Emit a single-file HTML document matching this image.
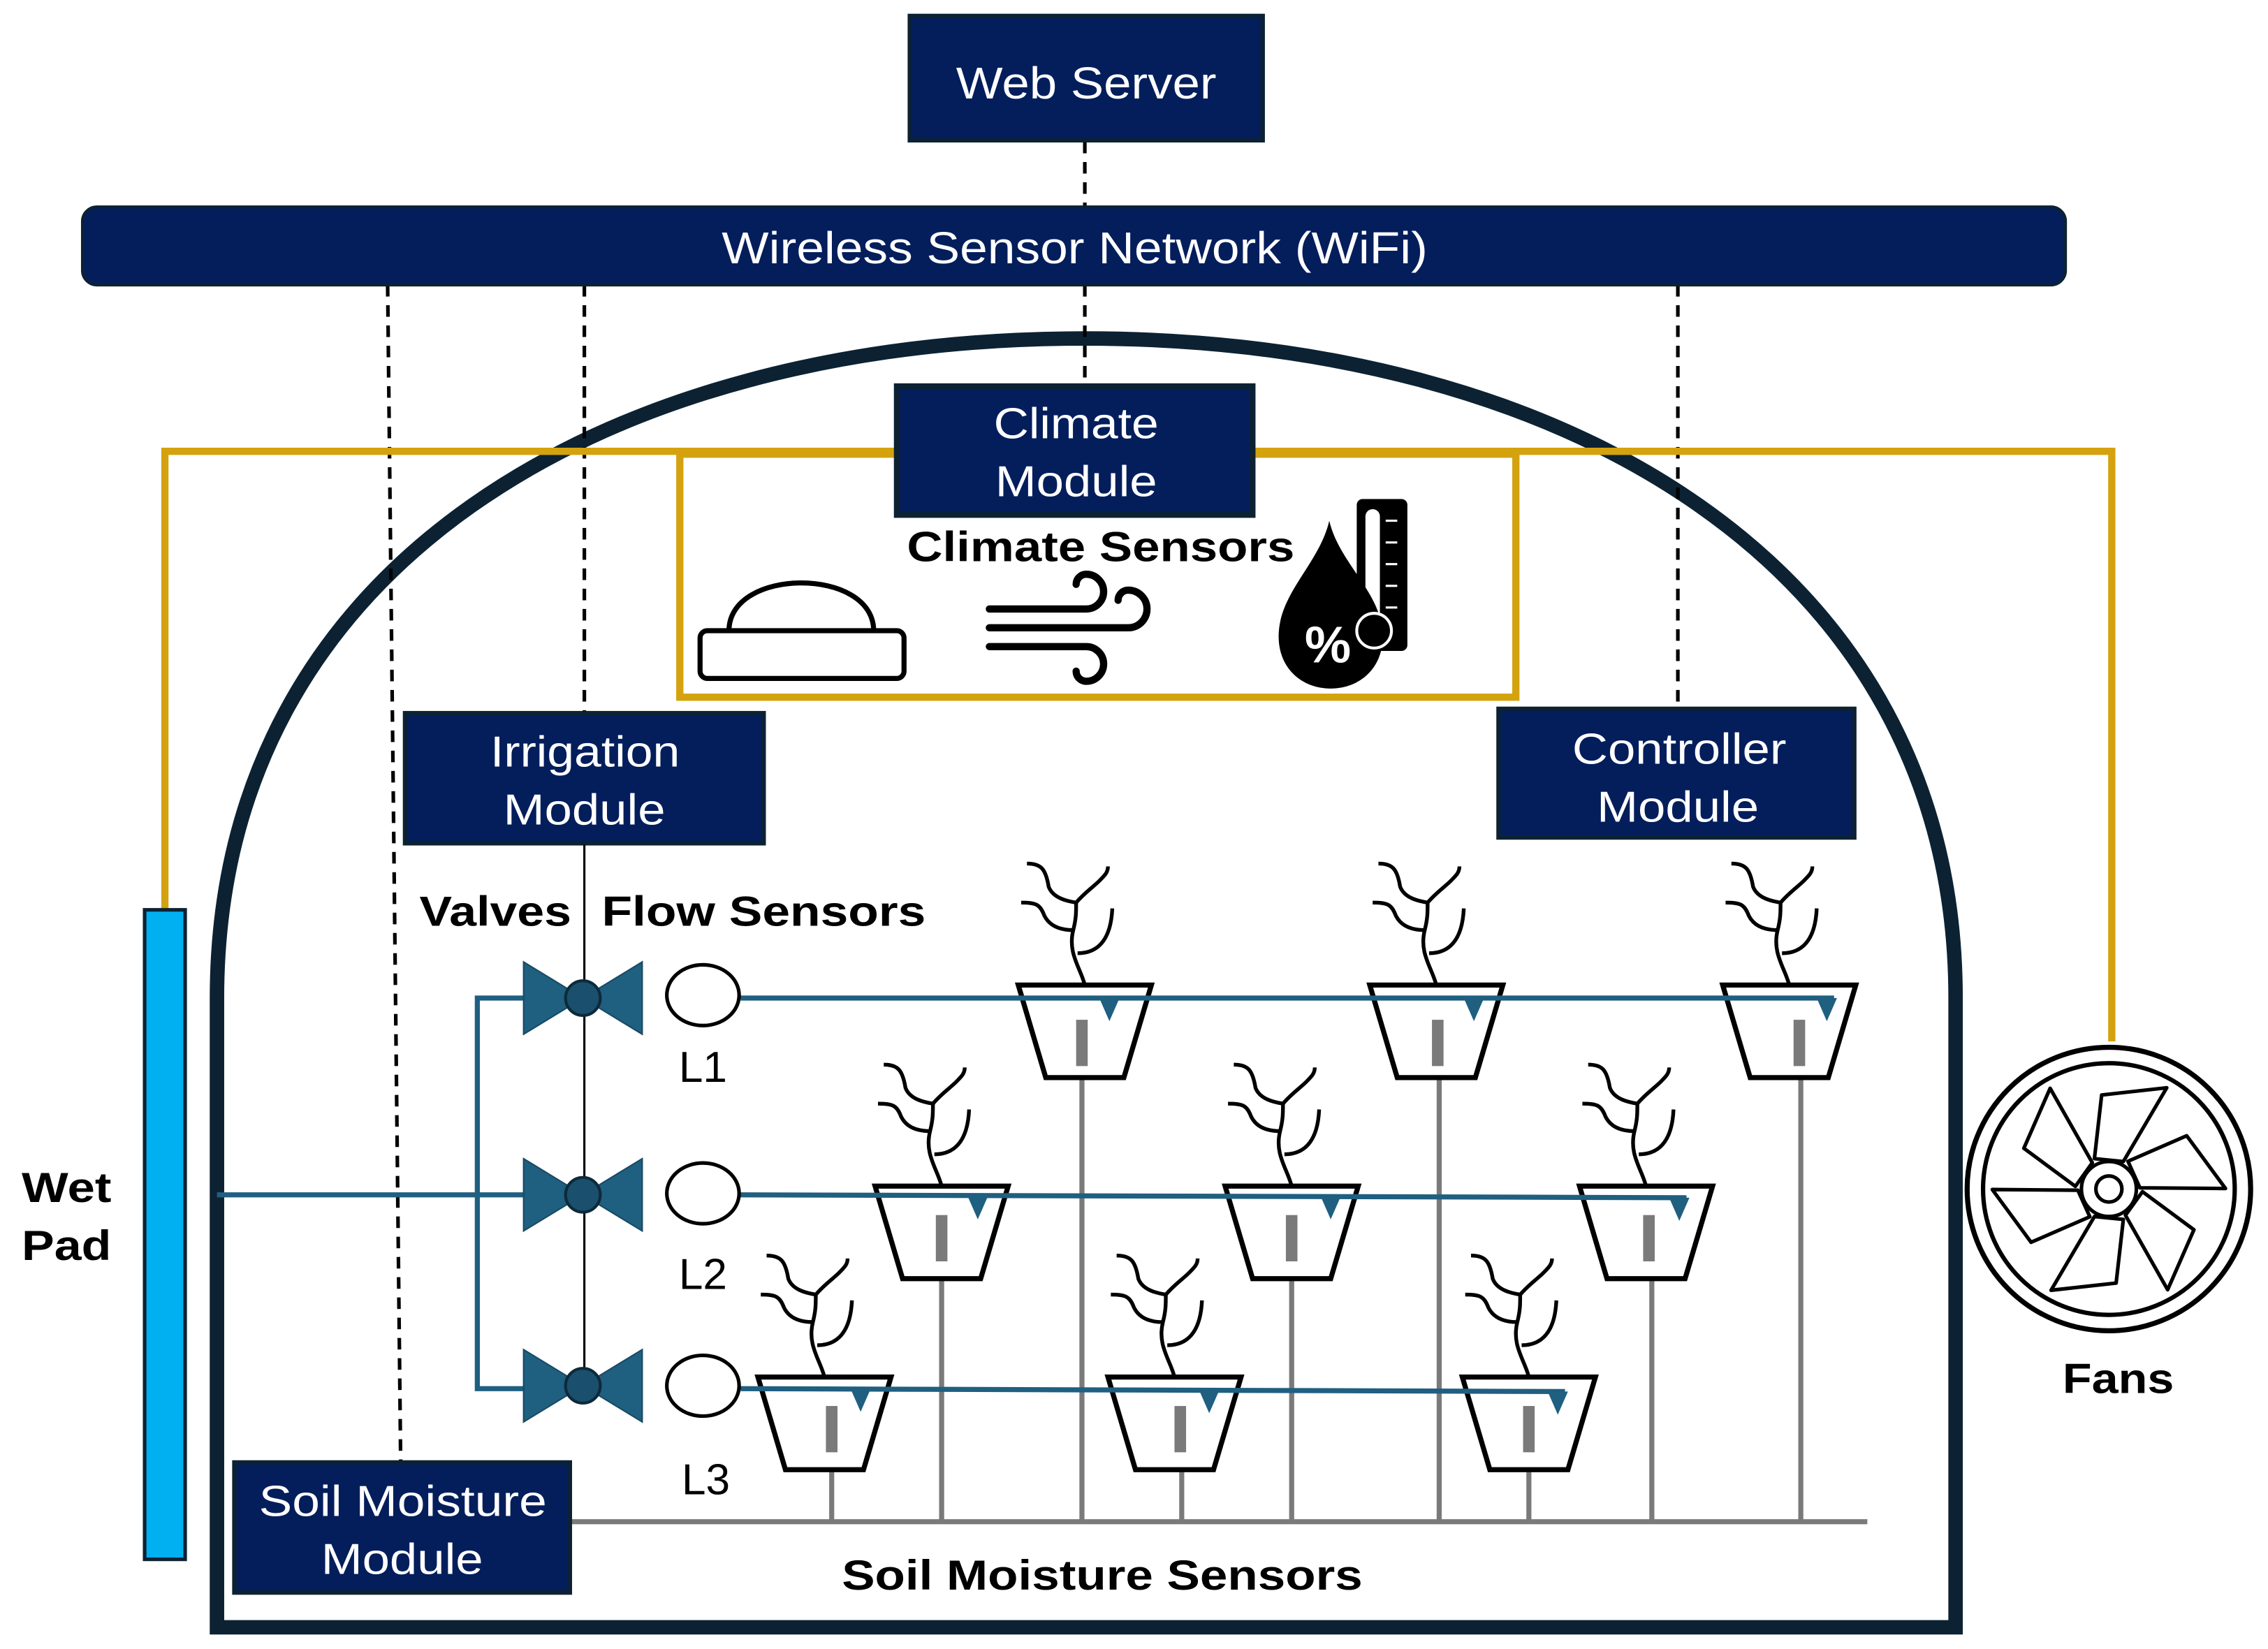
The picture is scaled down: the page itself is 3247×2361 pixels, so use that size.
<!DOCTYPE html>
<html><head><meta charset="utf-8"><style>
html,body{margin:0;padding:0;background:#fff;}
svg{display:block;}
text{font-family:"Liberation Sans",Arial,sans-serif;}
</style></head><body>
<svg width="3247" height="2361" viewBox="0 0 1568 1140" preserveAspectRatio="none" xmlns="http://www.w3.org/2000/svg">
<defs>
<g id="plant">
  <path d="M0,0 C-3,-12 -12,-22 -8,-38 C-6,-46 -6,-50 -6,-57" fill="none" stroke="#000" stroke-width="2.6"/>
  <path d="M-6,-57 C-12,-58 -22,-60 -25,-68 C-27,-80 -30,-84 -40,-84" fill="none" stroke="#000" stroke-width="2.6"/>
  <path d="M-6,-57 C0,-64 6,-68 10,-72 C14,-76 16,-78 16,-82" fill="none" stroke="#000" stroke-width="2.6"/>
  <path d="M-8,-38 C-16,-38 -24,-40 -28,-48 C-31,-56 -34,-57 -44,-57" fill="none" stroke="#000" stroke-width="2.6"/>
  <path d="M-5,-22 C8,-22 18,-30 19,-53" fill="none" stroke="#000" stroke-width="2.6"/>
</g>
<g id="pot">
  <polygon points="-46,0 46,0 27,64 -27,64" fill="#fff" stroke="#000" stroke-width="3.5"/>
</g>
<g id="blade"><polygon points="-10,-21 -5,-65 40,-70 10,-19" fill="#fff" stroke="#000" stroke-width="2.5" stroke-linejoin="round"/></g>
<g id="valve">
  <polygon points="-41,-25 -41,25 0,0" fill="#1f5f80" stroke="#184a64" stroke-width="1"/>
  <polygon points="41,-25 41,25 0,0" fill="#1f5f80" stroke="#184a64" stroke-width="1"/>
  <circle r="12" fill="#1a4f6e" stroke="#0d2a3a" stroke-width="2"/>
</g>
</defs>

<path d="M150,690 C150,390 420,234 750,234 C1080,234 1352,390 1352,690 L1352,1125 L150,1125 Z" fill="none" stroke="#0c2233" stroke-width="10"/>

<g stroke="#000" stroke-width="2.5" stroke-dasharray="8,6" fill="none">
  <line x1="750" y1="98" x2="750" y2="143"/>
  <line x1="750" y1="197" x2="750" y2="266"/>
  <line x1="268" y1="197" x2="277" y2="1010"/>
  <line x1="404" y1="197" x2="404" y2="492"/>
  <line x1="1160" y1="197" x2="1160" y2="489"/>
</g>

<g stroke="#d4a20f" stroke-width="5" fill="none">
  <polyline points="114,630 114,312 1460,312 1460,720"/>
  <rect x="470" y="314" width="578" height="168"/>
</g>

<rect x="629" y="11" width="244" height="86" fill="#041e5c" stroke="#0c2233" stroke-width="3"/>
<text x="661" y="68" font-size="31" fill="#fff" textLength="180" lengthAdjust="spacingAndGlyphs">Web Server</text>

<rect x="57" y="143" width="1371" height="54" rx="10" fill="#041e5c" stroke="#0c2233" stroke-width="2"/>
<text x="499" y="182" font-size="31" fill="#fff" textLength="488" lengthAdjust="spacingAndGlyphs">Wireless Sensor Network (WiFi)</text>

<rect x="620" y="267" width="246" height="89" fill="#041e5c" stroke="#0c2233" stroke-width="4"/>
<text x="687" y="303" font-size="30" fill="#fff" textLength="114" lengthAdjust="spacingAndGlyphs">Climate</text>
<text x="688" y="343" font-size="30" fill="#fff" textLength="112" lengthAdjust="spacingAndGlyphs">Module</text>
<text x="627" y="388" font-size="29" font-weight="bold" fill="#000" textLength="268" lengthAdjust="spacingAndGlyphs">Climate Sensors</text>

<path d="M504,436 C504,392 604,392 604,436" fill="none" stroke="#000" stroke-width="3.5"/>
<rect x="484" y="436" width="141" height="33" rx="5" fill="#fff" stroke="#000" stroke-width="3.5"/>

<g fill="none" stroke="#000" stroke-width="5" stroke-linecap="round">
  <path d="M684,421 H751 a12,12 0 0 0 0,-24 a7,7 0 0 0 -7,7"/>
  <path d="M684,434 H780 a13,13 0 0 0 0,-26 a7,7 0 0 0 -7,7"/>
  <path d="M684,447 H751 a12,12 0 0 1 0,24 a7,7 0 0 1 -7,-7"/>
</g>

<rect x="938" y="345" width="35" height="105" rx="4" fill="#000"/>
<rect x="944" y="352" width="10" height="80" rx="5" fill="#fff"/>
<g stroke="#fff" stroke-width="1.5">
  <line x1="958" y1="360" x2="966" y2="360"/><line x1="958" y1="375" x2="966" y2="375"/>
  <line x1="958" y1="390" x2="966" y2="390"/><line x1="958" y1="405" x2="966" y2="405"/>
  <line x1="958" y1="420" x2="966" y2="420"/>
</g>
<path d="M919,360 C912,390 884,410 884,440 C884,462 900,476 920,476 C940,476 956,462 956,440 C956,410 926,390 919,360 Z" fill="#000"/>
<circle cx="950" cy="436" r="12" fill="#000" stroke="#fff" stroke-width="2"/>
<text x="918" y="458" font-size="36" font-weight="bold" fill="#fff" text-anchor="middle">%</text>

<rect x="280" y="493" width="248" height="90" fill="#041e5c" stroke="#0c2233" stroke-width="3"/>
<text x="339" y="530" font-size="30" fill="#fff" textLength="131" lengthAdjust="spacingAndGlyphs">Irrigation</text>
<text x="348" y="570" font-size="30" fill="#fff" textLength="112" lengthAdjust="spacingAndGlyphs">Module</text>

<rect x="1036" y="490" width="246" height="89" fill="#041e5c" stroke="#0c2233" stroke-width="3"/>
<text x="1087" y="528" font-size="30" fill="#fff" textLength="148" lengthAdjust="spacingAndGlyphs">Controller</text>
<text x="1104" y="568" font-size="30" fill="#fff" textLength="112" lengthAdjust="spacingAndGlyphs">Module</text>

<rect x="100" y="629" width="28" height="449" fill="#00b0f0" stroke="#0c2233" stroke-width="2.5"/>
<text x="15" y="831" font-size="29" font-weight="bold" textLength="62" lengthAdjust="spacingAndGlyphs">Wet</text>
<text x="15" y="871" font-size="29" font-weight="bold" textLength="62" lengthAdjust="spacingAndGlyphs">Pad</text>

<g transform="translate(1458,822)">
  <circle r="98" fill="#fff" stroke="#000" stroke-width="3.5"/>
  <circle r="87" fill="none" stroke="#000" stroke-width="3"/>
  <use href="#blade"/>
  <use href="#blade" transform="rotate(60)"/>
  <use href="#blade" transform="rotate(120)"/>
  <use href="#blade" transform="rotate(180)"/>
  <use href="#blade" transform="rotate(240)"/>
  <use href="#blade" transform="rotate(300)"/>
  <circle r="19" fill="#fff" stroke="#000" stroke-width="2.5"/>
  <circle r="9" fill="#fff" stroke="#000" stroke-width="2.5"/>
</g>
<text x="1426" y="963" font-size="29" font-weight="bold" textLength="77" lengthAdjust="spacingAndGlyphs">Fans</text>

<g stroke="#7a7a7a" stroke-width="3.5">
  <line x1="394" y1="1052" x2="1291" y2="1052"/>
  <line x1="748" y1="735" x2="748" y2="1052"/>
  <line x1="995" y1="735" x2="995" y2="1052"/>
  <line x1="1245" y1="735" x2="1245" y2="1052"/>
  <line x1="651" y1="872" x2="651" y2="1052"/>
  <line x1="893" y1="872" x2="893" y2="1052"/>
  <line x1="1142" y1="872" x2="1142" y2="1052"/>
  <line x1="575" y1="1004" x2="575" y2="1052"/>
  <line x1="817" y1="1004" x2="817" y2="1052"/>
  <line x1="1057" y1="1004" x2="1057" y2="1052"/>
</g>

<g>
  <use href="#plant" transform="translate(750,681)"/><use href="#pot" transform="translate(750,681)"/>
  <use href="#plant" transform="translate(993,681)"/><use href="#pot" transform="translate(993,681)"/>
  <use href="#plant" transform="translate(1237,681)"/><use href="#pot" transform="translate(1237,681)"/>
  <use href="#plant" transform="translate(651,820)"/><use href="#pot" transform="translate(651,820)"/>
  <use href="#plant" transform="translate(893,820)"/><use href="#pot" transform="translate(893,820)"/>
  <use href="#plant" transform="translate(1138,820)"/><use href="#pot" transform="translate(1138,820)"/>
  <use href="#plant" transform="translate(570,952)"/><use href="#pot" transform="translate(570,952)"/>
  <use href="#plant" transform="translate(812,952)"/><use href="#pot" transform="translate(812,952)"/>
  <use href="#plant" transform="translate(1057,952)"/><use href="#pot" transform="translate(1057,952)"/>
</g>
<g fill="#7a7a7a">
  <rect x="744" y="705" width="8" height="32"/>
  <rect x="990" y="705" width="8" height="32"/>
  <rect x="1240" y="705" width="8" height="32"/>
  <rect x="647" y="840" width="8" height="32"/>
  <rect x="889" y="840" width="8" height="32"/>
  <rect x="1136" y="840" width="8" height="32"/>
  <rect x="571" y="972" width="8" height="32"/>
  <rect x="812" y="972" width="8" height="32"/>
  <rect x="1053" y="972" width="8" height="32"/>
</g>

<g stroke="#1f5f80" stroke-width="3.5" fill="none">
  <polyline points="362,690 330,690 330,960 362,960"/>
  <line x1="150" y1="826" x2="362" y2="826"/>
  <line x1="512" y1="690" x2="1268" y2="690"/>
  <line x1="512" y1="826" x2="1166" y2="828"/>
  <line x1="512" y1="960" x2="1082" y2="962"/>
</g>
<g fill="#1f5f80">
  <polygon points="760,690 774,690 767,706"/>
  <polygon points="1012,690 1026,690 1019,706"/>
  <polygon points="1256,690 1270,690 1263,706"/>
  <polygon points="669,827 683,827 676,843"/>
  <polygon points="913,827 927,827 920,843"/>
  <polygon points="1154,828 1168,828 1161,844"/>
  <polygon points="588,960 602,960 595,976"/>
  <polygon points="829,961 843,961 836,977"/>
  <polygon points="1070,962 1084,962 1077,978"/>
</g>

<line x1="404" y1="584" x2="404" y2="960" stroke="#000" stroke-width="1.5"/>
<use href="#valve" transform="translate(403,690)"/>
<use href="#valve" transform="translate(403,826)"/>
<use href="#valve" transform="translate(403,958)"/>
<g fill="#fff" stroke="#000" stroke-width="2.5">
  <ellipse cx="486" cy="688" rx="25" ry="21"/>
  <ellipse cx="486" cy="825" rx="25" ry="21"/>
  <ellipse cx="486" cy="958" rx="25" ry="21"/>
</g>
<text x="486" y="748" font-size="30" text-anchor="middle">L1</text>
<text x="486" y="891" font-size="30" text-anchor="middle">L2</text>
<text x="488" y="1033" font-size="30" text-anchor="middle">L3</text>
<text x="290" y="640" font-size="29" font-weight="bold" textLength="105" lengthAdjust="spacingAndGlyphs">Valves</text>
<text x="416" y="640" font-size="29" font-weight="bold" textLength="224" lengthAdjust="spacingAndGlyphs">Flow Sensors</text>

<rect x="162" y="1011" width="232" height="90" fill="#041e5c" stroke="#0c2233" stroke-width="3"/>
<text x="179" y="1048" font-size="30" fill="#fff" textLength="199" lengthAdjust="spacingAndGlyphs">Soil Moisture</text>
<text x="222" y="1088" font-size="30" fill="#fff" textLength="112" lengthAdjust="spacingAndGlyphs">Module</text>
<text x="582" y="1099" font-size="29" font-weight="bold" textLength="360" lengthAdjust="spacingAndGlyphs">Soil Moisture Sensors</text>
</svg>
</body></html>
